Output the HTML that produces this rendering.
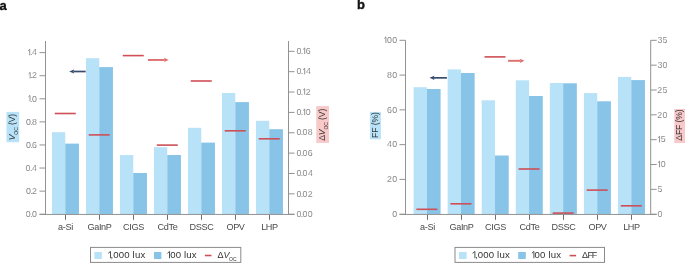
<!DOCTYPE html>
<html><head><meta charset="utf-8"><style>
html,body{margin:0;padding:0;background:#fff;width:685px;height:263px;overflow:hidden}
svg{display:block;will-change:transform}
text{font-family:"Liberation Sans", sans-serif}
.tk{font-size:8.8px;fill:#555555;stroke:#fff;stroke-width:0.2px}
.xl{font-size:9.1px;fill:#4a4a4a;letter-spacing:-0.32px}
.at{font-size:8.6px;fill:#333;letter-spacing:-0.1px}
.sub{font-size:5px}
.lg{font-size:9px;fill:#333}
.lg2{font-size:9.6px;fill:#333;letter-spacing:0.15px}
.pl{font-size:13px;font-weight:bold;fill:#111;stroke:#111;stroke-width:0.35px}
</style></head><body>
<svg width="685" height="263" viewBox="0 0 685 263" shape-rendering="auto">
<line x1="45.5" y1="41" x2="45.5" y2="214.7" stroke="#929292" stroke-width="1"/>
<line x1="288.5" y1="41" x2="288.5" y2="214.7" stroke="#929292" stroke-width="1"/>
<rect x="51.95" y="132.2" width="13.3" height="82" fill="#b7e2f8"/>
<rect x="65.25" y="143.6" width="13.7" height="70.6" fill="#88c4e8"/>
<rect x="85.95" y="58.2" width="13.3" height="156" fill="#b7e2f8"/>
<rect x="99.25" y="67.1" width="13.7" height="147.1" fill="#88c4e8"/>
<rect x="119.95" y="155.1" width="13.3" height="59.1" fill="#b7e2f8"/>
<rect x="133.25" y="173" width="13.7" height="41.2" fill="#88c4e8"/>
<rect x="153.95" y="147.2" width="13.3" height="67" fill="#b7e2f8"/>
<rect x="167.25" y="155" width="13.7" height="59.2" fill="#88c4e8"/>
<rect x="187.95" y="127.8" width="13.3" height="86.4" fill="#b7e2f8"/>
<rect x="201.25" y="142.6" width="13.7" height="71.6" fill="#88c4e8"/>
<rect x="221.95" y="93" width="13.3" height="121.2" fill="#b7e2f8"/>
<rect x="235.25" y="102.1" width="13.7" height="112.1" fill="#88c4e8"/>
<rect x="255.95" y="120.8" width="13.3" height="93.4" fill="#b7e2f8"/>
<rect x="269.25" y="129.2" width="13.7" height="85" fill="#88c4e8"/>
<line x1="54.75" y1="113.5" x2="75.75" y2="113.5" stroke="#cf4f56" stroke-width="1.6"/>
<line x1="88.75" y1="134.9" x2="109.75" y2="134.9" stroke="#cf4f56" stroke-width="1.6"/>
<line x1="122.75" y1="55.6" x2="143.75" y2="55.6" stroke="#cf4f56" stroke-width="1.6"/>
<line x1="156.75" y1="145.1" x2="177.75" y2="145.1" stroke="#cf4f56" stroke-width="1.6"/>
<line x1="190.75" y1="81" x2="211.75" y2="81" stroke="#cf4f56" stroke-width="1.6"/>
<line x1="224.75" y1="130.8" x2="245.75" y2="130.8" stroke="#cf4f56" stroke-width="1.6"/>
<line x1="258.75" y1="138.8" x2="279.75" y2="138.8" stroke="#cf4f56" stroke-width="1.6"/>
<line x1="39.5" y1="214.45" x2="294.5" y2="214.45" stroke="#929292" stroke-width="1"/>
<line x1="39.5" y1="214.2" x2="45.5" y2="214.2" stroke="#929292" stroke-width="1"/>
<text x="25.87" y="216.9" class="tk">0</text>
<text x="30.25" y="216.9" class="tk">.</text>
<text x="32.02" y="216.9" class="tk">0</text>
<line x1="39.5" y1="191.12" x2="45.5" y2="191.12" stroke="#929292" stroke-width="1"/>
<text x="26.05" y="193.82" class="tk">0</text>
<text x="30.43" y="193.82" class="tk">.</text>
<text x="32.11" y="193.82" class="tk">2</text>
<line x1="39.5" y1="168.04" x2="45.5" y2="168.04" stroke="#929292" stroke-width="1"/>
<text x="25.61" y="170.74" class="tk">0</text>
<text x="29.99" y="170.74" class="tk">.</text>
<text x="31.94" y="170.74" class="tk">4</text>
<line x1="39.5" y1="144.96" x2="45.5" y2="144.96" stroke="#929292" stroke-width="1"/>
<text x="26.05" y="147.66" class="tk">0</text>
<text x="30.43" y="147.66" class="tk">.</text>
<text x="32.11" y="147.66" class="tk">6</text>
<line x1="39.5" y1="121.88" x2="45.5" y2="121.88" stroke="#929292" stroke-width="1"/>
<text x="25.96" y="124.58" class="tk">0</text>
<text x="30.34" y="124.58" class="tk">.</text>
<text x="32.11" y="124.58" class="tk">8</text>
<line x1="39.5" y1="98.8" x2="45.5" y2="98.8" stroke="#929292" stroke-width="1"/>
<path d="M30,101.5 V95.4 L28.4,96.95" stroke="#6a6a6a" stroke-width="0.72" fill="none" stroke-linejoin="miter"/>
<text x="30.25" y="101.5" class="tk">.</text>
<text x="32.02" y="101.5" class="tk">0</text>
<line x1="39.5" y1="75.72" x2="45.5" y2="75.72" stroke="#929292" stroke-width="1"/>
<path d="M30.17,78.42 V72.32 L28.57,73.87" stroke="#6a6a6a" stroke-width="0.72" fill="none" stroke-linejoin="miter"/>
<text x="30.43" y="78.42" class="tk">.</text>
<text x="32.11" y="78.42" class="tk">2</text>
<line x1="39.5" y1="52.64" x2="45.5" y2="52.64" stroke="#929292" stroke-width="1"/>
<path d="M29.73,55.34 V49.24 L28.13,50.79" stroke="#6a6a6a" stroke-width="0.72" fill="none" stroke-linejoin="miter"/>
<text x="29.99" y="55.34" class="tk">.</text>
<text x="31.94" y="55.34" class="tk">4</text>
<line x1="288.5" y1="214.2" x2="294.5" y2="214.2" stroke="#929292" stroke-width="1"/>
<text x="296.45" y="216.9" class="tk">0</text>
<text x="300.83" y="216.9" class="tk">.</text>
<text x="302.6" y="216.9" class="tk">0</text>
<text x="307.83" y="216.9" class="tk">0</text>
<line x1="288.5" y1="193.84" x2="294.5" y2="193.84" stroke="#929292" stroke-width="1"/>
<text x="296.45" y="196.54" class="tk">0</text>
<text x="300.83" y="196.54" class="tk">.</text>
<text x="302.6" y="196.54" class="tk">0</text>
<text x="307.74" y="196.54" class="tk">2</text>
<line x1="288.5" y1="173.48" x2="294.5" y2="173.48" stroke="#929292" stroke-width="1"/>
<text x="296.45" y="176.18" class="tk">0</text>
<text x="300.83" y="176.18" class="tk">.</text>
<text x="302.6" y="176.18" class="tk">0</text>
<text x="308" y="176.18" class="tk">4</text>
<line x1="288.5" y1="153.12" x2="294.5" y2="153.12" stroke="#929292" stroke-width="1"/>
<text x="296.45" y="155.82" class="tk">0</text>
<text x="300.83" y="155.82" class="tk">.</text>
<text x="302.6" y="155.82" class="tk">0</text>
<text x="307.74" y="155.82" class="tk">6</text>
<line x1="288.5" y1="132.76" x2="294.5" y2="132.76" stroke="#929292" stroke-width="1"/>
<text x="296.45" y="135.46" class="tk">0</text>
<text x="300.83" y="135.46" class="tk">.</text>
<text x="302.6" y="135.46" class="tk">0</text>
<text x="307.83" y="135.46" class="tk">8</text>
<line x1="288.5" y1="112.4" x2="294.5" y2="112.4" stroke="#929292" stroke-width="1"/>
<text x="296.45" y="115.1" class="tk">0</text>
<text x="300.83" y="115.1" class="tk">.</text>
<path d="M304.7,115.1 V109 L303.1,110.55" stroke="#6a6a6a" stroke-width="0.72" fill="none" stroke-linejoin="miter"/>
<text x="305.8" y="115.1" class="tk">0</text>
<line x1="288.5" y1="92.04" x2="294.5" y2="92.04" stroke="#929292" stroke-width="1"/>
<text x="296.45" y="94.74" class="tk">0</text>
<text x="300.83" y="94.74" class="tk">.</text>
<path d="M304.7,94.74 V88.64 L303.1,90.19" stroke="#6a6a6a" stroke-width="0.72" fill="none" stroke-linejoin="miter"/>
<text x="305.71" y="94.74" class="tk">2</text>
<line x1="288.5" y1="71.68" x2="294.5" y2="71.68" stroke="#929292" stroke-width="1"/>
<text x="296.45" y="74.38" class="tk">0</text>
<text x="300.83" y="74.38" class="tk">.</text>
<path d="M304.7,74.38 V68.28 L303.1,69.83" stroke="#6a6a6a" stroke-width="0.72" fill="none" stroke-linejoin="miter"/>
<text x="305.98" y="74.38" class="tk">4</text>
<line x1="288.5" y1="51.32" x2="294.5" y2="51.32" stroke="#929292" stroke-width="1"/>
<text x="296.45" y="54.02" class="tk">0</text>
<text x="300.83" y="54.02" class="tk">.</text>
<path d="M304.7,54.02 V47.92 L303.1,49.47" stroke="#6a6a6a" stroke-width="0.72" fill="none" stroke-linejoin="miter"/>
<text x="305.71" y="54.02" class="tk">6</text>
<line x1="65.5" y1="214.95" x2="65.5" y2="219.8" stroke="#6e6e6e" stroke-width="1"/>
<text x="65.5" y="229.5" text-anchor="middle" class="xl">a-Si</text>
<line x1="99.5" y1="214.95" x2="99.5" y2="219.8" stroke="#6e6e6e" stroke-width="1"/>
<text x="99.5" y="229.5" text-anchor="middle" class="xl">GaInP</text>
<line x1="133.5" y1="214.95" x2="133.5" y2="219.8" stroke="#6e6e6e" stroke-width="1"/>
<text x="133.5" y="229.5" text-anchor="middle" class="xl">CIGS</text>
<line x1="167.5" y1="214.95" x2="167.5" y2="219.8" stroke="#6e6e6e" stroke-width="1"/>
<text x="167.5" y="229.5" text-anchor="middle" class="xl">CdTe</text>
<line x1="201.5" y1="214.95" x2="201.5" y2="219.8" stroke="#6e6e6e" stroke-width="1"/>
<text x="201.5" y="229.5" text-anchor="middle" class="xl">DSSC</text>
<line x1="235.5" y1="214.95" x2="235.5" y2="219.8" stroke="#6e6e6e" stroke-width="1"/>
<text x="235.5" y="229.5" text-anchor="middle" class="xl">OPV</text>
<line x1="269.5" y1="214.95" x2="269.5" y2="219.8" stroke="#6e6e6e" stroke-width="1"/>
<text x="269.5" y="229.5" text-anchor="middle" class="xl">LHP</text>
<line x1="405.5" y1="40.3" x2="405.5" y2="214.7" stroke="#929292" stroke-width="1"/>
<line x1="650.7" y1="40.3" x2="650.7" y2="214.7" stroke="#929292" stroke-width="1"/>
<rect x="413.6" y="87.2" width="13.3" height="127" fill="#b7e2f8"/>
<rect x="426.9" y="89" width="13.7" height="125.2" fill="#88c4e8"/>
<rect x="447.66" y="69.4" width="13.3" height="144.8" fill="#b7e2f8"/>
<rect x="460.96" y="73" width="13.7" height="141.2" fill="#88c4e8"/>
<rect x="481.72" y="100.3" width="13.3" height="113.9" fill="#b7e2f8"/>
<rect x="495.02" y="155.5" width="13.7" height="58.7" fill="#88c4e8"/>
<rect x="515.78" y="80.3" width="13.3" height="133.9" fill="#b7e2f8"/>
<rect x="529.08" y="96" width="13.7" height="118.2" fill="#88c4e8"/>
<rect x="549.84" y="83" width="13.3" height="131.2" fill="#b7e2f8"/>
<rect x="563.14" y="83.3" width="13.7" height="130.9" fill="#88c4e8"/>
<rect x="583.9" y="93.1" width="13.3" height="121.1" fill="#b7e2f8"/>
<rect x="597.2" y="101.3" width="13.7" height="112.9" fill="#88c4e8"/>
<rect x="617.96" y="76.9" width="13.3" height="137.3" fill="#b7e2f8"/>
<rect x="631.26" y="80.1" width="13.7" height="134.1" fill="#88c4e8"/>
<line x1="416.4" y1="209.3" x2="437.4" y2="209.3" stroke="#cf4f56" stroke-width="1.6"/>
<line x1="450.46" y1="203.8" x2="471.46" y2="203.8" stroke="#cf4f56" stroke-width="1.6"/>
<line x1="484.52" y1="56.9" x2="505.52" y2="56.9" stroke="#cf4f56" stroke-width="1.6"/>
<line x1="518.58" y1="169" x2="539.58" y2="169" stroke="#cf4f56" stroke-width="1.6"/>
<line x1="552.64" y1="213.1" x2="573.64" y2="213.1" stroke="#cf4f56" stroke-width="1.6"/>
<line x1="586.7" y1="190.1" x2="607.7" y2="190.1" stroke="#cf4f56" stroke-width="1.6"/>
<line x1="620.76" y1="205.8" x2="641.76" y2="205.8" stroke="#cf4f56" stroke-width="1.6"/>
<line x1="399.5" y1="214.45" x2="656.7" y2="214.45" stroke="#929292" stroke-width="1"/>
<line x1="399.5" y1="214.2" x2="405.5" y2="214.2" stroke="#929292" stroke-width="1"/>
<text x="392.22" y="216.9" class="tk">0</text>
<line x1="399.5" y1="179.42" x2="405.5" y2="179.42" stroke="#929292" stroke-width="1"/>
<text x="387.09" y="182.12" class="tk">2</text>
<text x="392.22" y="182.12" class="tk">0</text>
<line x1="399.5" y1="144.64" x2="405.5" y2="144.64" stroke="#929292" stroke-width="1"/>
<text x="386.91" y="147.34" class="tk">4</text>
<text x="392.22" y="147.34" class="tk">0</text>
<line x1="399.5" y1="109.86" x2="405.5" y2="109.86" stroke="#929292" stroke-width="1"/>
<text x="387.09" y="112.56" class="tk">6</text>
<text x="392.22" y="112.56" class="tk">0</text>
<line x1="399.5" y1="75.08" x2="405.5" y2="75.08" stroke="#929292" stroke-width="1"/>
<text x="387.09" y="77.78" class="tk">8</text>
<text x="392.22" y="77.78" class="tk">0</text>
<line x1="399.5" y1="40.3" x2="405.5" y2="40.3" stroke="#929292" stroke-width="1"/>
<path d="M385.9,43 V36.9 L384.3,38.45" stroke="#6a6a6a" stroke-width="0.72" fill="none" stroke-linejoin="miter"/>
<text x="387" y="43" class="tk">0</text>
<text x="392.22" y="43" class="tk">0</text>
<line x1="650.7" y1="214.2" x2="656.7" y2="214.2" stroke="#929292" stroke-width="1"/>
<text x="657.45" y="216.9" class="tk">0</text>
<line x1="650.7" y1="189.36" x2="656.7" y2="189.36" stroke="#929292" stroke-width="1"/>
<text x="657.45" y="192.06" class="tk">5</text>
<line x1="650.7" y1="164.52" x2="656.7" y2="164.52" stroke="#929292" stroke-width="1"/>
<path d="M659.55,167.22 V161.12 L657.95,162.67" stroke="#6a6a6a" stroke-width="0.72" fill="none" stroke-linejoin="miter"/>
<text x="660.65" y="167.22" class="tk">0</text>
<line x1="650.7" y1="139.68" x2="656.7" y2="139.68" stroke="#929292" stroke-width="1"/>
<path d="M659.55,142.38 V136.28 L657.95,137.83" stroke="#6a6a6a" stroke-width="0.72" fill="none" stroke-linejoin="miter"/>
<text x="660.65" y="142.38" class="tk">5</text>
<line x1="650.7" y1="114.84" x2="656.7" y2="114.84" stroke="#929292" stroke-width="1"/>
<text x="657.36" y="117.54" class="tk">2</text>
<text x="662.5" y="117.54" class="tk">0</text>
<line x1="650.7" y1="90" x2="656.7" y2="90" stroke="#929292" stroke-width="1"/>
<text x="657.36" y="92.7" class="tk">2</text>
<text x="662.5" y="92.7" class="tk">5</text>
<line x1="650.7" y1="65.16" x2="656.7" y2="65.16" stroke="#929292" stroke-width="1"/>
<text x="657.45" y="67.86" class="tk">3</text>
<text x="662.58" y="67.86" class="tk">0</text>
<line x1="650.7" y1="40.32" x2="656.7" y2="40.32" stroke="#929292" stroke-width="1"/>
<text x="657.45" y="43.02" class="tk">3</text>
<text x="662.58" y="43.02" class="tk">5</text>
<line x1="427.5" y1="214.95" x2="427.5" y2="219.8" stroke="#6e6e6e" stroke-width="1"/>
<text x="427.5" y="229.5" text-anchor="middle" class="xl">a-Si</text>
<line x1="461.5" y1="214.95" x2="461.5" y2="219.8" stroke="#6e6e6e" stroke-width="1"/>
<text x="461.5" y="229.5" text-anchor="middle" class="xl">GaInP</text>
<line x1="495.5" y1="214.95" x2="495.5" y2="219.8" stroke="#6e6e6e" stroke-width="1"/>
<text x="495.5" y="229.5" text-anchor="middle" class="xl">CIGS</text>
<line x1="529.5" y1="214.95" x2="529.5" y2="219.8" stroke="#6e6e6e" stroke-width="1"/>
<text x="529.5" y="229.5" text-anchor="middle" class="xl">CdTe</text>
<line x1="563.5" y1="214.95" x2="563.5" y2="219.8" stroke="#6e6e6e" stroke-width="1"/>
<text x="563.5" y="229.5" text-anchor="middle" class="xl">DSSC</text>
<line x1="597.5" y1="214.95" x2="597.5" y2="219.8" stroke="#6e6e6e" stroke-width="1"/>
<text x="597.5" y="229.5" text-anchor="middle" class="xl">OPV</text>
<line x1="631.5" y1="214.95" x2="631.5" y2="219.8" stroke="#6e6e6e" stroke-width="1"/>
<text x="631.5" y="229.5" text-anchor="middle" class="xl">LHP</text>
<line x1="85.7" y1="71.5" x2="73.5" y2="71.5" stroke="#384c6d" stroke-width="1.7"/>
<path d="M69.2,71.5 L74.1,69.4 L73.5,71.5 L74.1,73.6 Z" fill="#384c6d"/>
<line x1="147.9" y1="59.95" x2="164.7" y2="59.95" stroke="#df6e6e" stroke-width="1.9"/>
<path d="M168.7,59.95 L164.1,57.85 L164.7,59.95 L164.1,62.05 Z" fill="#df6e6e"/>
<line x1="446.9" y1="77.85" x2="433.8" y2="77.85" stroke="#384c6d" stroke-width="1.7"/>
<path d="M429.5,77.85 L434.4,75.75 L433.8,77.85 L434.4,79.95 Z" fill="#384c6d"/>
<line x1="508.1" y1="60.8" x2="520.4" y2="60.8" stroke="#df6e6e" stroke-width="1.9"/>
<path d="M524.4,60.8 L519.8,58.7 L520.4,60.8 L519.8,62.9 Z" fill="#df6e6e"/>
<rect x="6.5" y="111.9" width="12.7" height="30.3" fill="#b7e2f8"/>
<text transform="translate(14.9,140.3) rotate(-90)" class="at"><tspan font-style="italic">V</tspan><tspan class="sub" dy="2.6">OC</tspan><tspan dy="-2.6"> (V)</tspan></text>
<rect x="316.3" y="106.1" width="12.7" height="36.8" fill="#f9c8c8"/>
<text transform="translate(324.9,140.8) rotate(-90)" class="at">Δ<tspan font-style="italic">V</tspan><tspan class="sub" dy="2.6">OC</tspan><tspan dy="-2.6"> (V)</tspan></text>
<rect x="369.9" y="111.9" width="11" height="27.4" fill="#b7e2f8"/>
<text transform="translate(378.2,137.9) rotate(-90)" class="at" letter-spacing="-0.35">FF (%)</text>
<rect x="674.3" y="109" width="11" height="34" fill="#f9c8c8"/>
<text transform="translate(682.4,140.7) rotate(-90)" class="at" letter-spacing="-0.3">ΔFF (%)</text>
<rect x="90.5" y="247.4" width="150.3" height="15" fill="#fff" stroke="#8a8a8a" stroke-width="1"/>
<rect x="94.4" y="252" width="7.4" height="7" fill="#b7e2f8"/>
<path d="M110.5,258.2 V251.45 L108.2,253.3" stroke="#333" stroke-width="0.85" fill="none"/>
<text x="110.54" y="258.2" class="lg2">,000 lux</text>
<rect x="154" y="252" width="7.4" height="7" fill="#88c4e8"/>
<path d="M169.5,258.2 V251.45 L167.4,253.3" stroke="#333" stroke-width="0.85" fill="none"/>
<text x="170.2" y="258.2" class="lg2">00 lux</text>
<line x1="204.9" y1="255.5" x2="211.5" y2="255.5" stroke="#cf4f56" stroke-width="1.6"/>
<text x="217.6" y="258.4" class="lg">Δ<tspan font-style="italic">V</tspan><tspan class="sub" dx="-0.6" dy="2.6">OC</tspan></text>
<rect x="455" y="247.4" width="149.5" height="15" fill="#fff" stroke="#8a8a8a" stroke-width="1"/>
<rect x="459" y="252" width="7.6" height="7" fill="#b7e2f8"/>
<path d="M474.9,258.2 V251.45 L472.6,253.3" stroke="#333" stroke-width="0.85" fill="none"/>
<text x="475.04" y="258.2" class="lg2">,000 lux</text>
<rect x="518.2" y="252" width="7.6" height="7" fill="#88c4e8"/>
<path d="M533.9,258.2 V251.45 L531.8,253.3" stroke="#333" stroke-width="0.85" fill="none"/>
<text x="534.6" y="258.2" class="lg2">00 lux</text>
<line x1="569.6" y1="255.6" x2="576.1" y2="255.6" stroke="#cf4f56" stroke-width="1.6"/>
<text x="582.1 587.4 591.7" y="258.4" class="lg">ΔFF</text>
<text x="-0.5" y="9.5" class="pl">a</text>
<text x="356.9" y="9.4" class="pl">b</text>
</svg>
</body></html>
